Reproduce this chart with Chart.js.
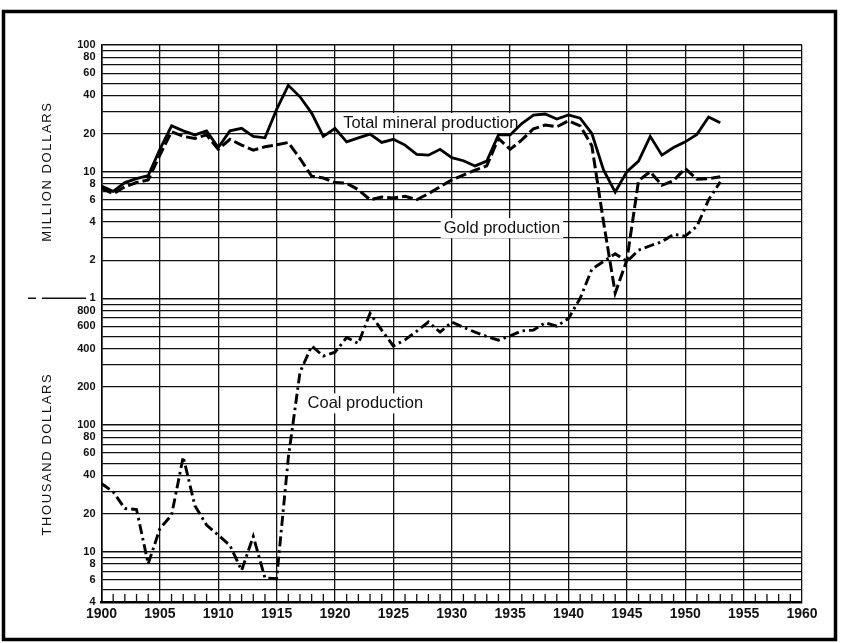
<!DOCTYPE html>
<html>
<head>
<meta charset="utf-8">
<script src="https://cdn.jsdelivr.net/npm/chart.js@4.4.1/dist/chart.umd.min.js"></script>
<style>
  html, body { margin: 0; padding: 0; background: #fff; }
  canvas { display: block; }
</style>
</head>
<body>
<canvas id="c" width="841" height="643"></canvas>
<script>
// Annual production values, 1900-1953
const years = [
  1900, 1901, 1902, 1903, 1904, 1905, 1906, 1907, 1908, 1909,
  1910, 1911, 1912, 1913, 1914, 1915, 1916, 1917, 1918, 1919,
  1920, 1921, 1922, 1923, 1924, 1925, 1926, 1927, 1928, 1929,
  1930, 1931, 1932, 1933, 1934, 1935, 1936, 1937, 1938, 1939,
  1940, 1941, 1942, 1943, 1944, 1945, 1946, 1947, 1948, 1949,
  1950, 1951, 1952, 1953
];

// million dollars
const totalMillions = [
  7.7, 7.0, 8.2, 8.8, 9.3, 15, 23, 21, 19.5, 21,
  15.5, 21, 22, 19, 18.5, 31, 48, 39, 29, 19,
  22, 17.2, 18.5, 19.8, 17, 18, 16.2, 13.7, 13.5, 15,
  12.9, 12.2, 11.1, 12.1, 19.5, 19.5, 24, 28, 28.5, 26,
  28, 26.4, 20, 10.3, 6.9, 10, 12.1, 19, 13.5, 15.5,
  17.2, 19.7, 27, 24.3
];

// million dollars
const goldMillions = [
  7.4, 6.7, 7.6, 8.2, 8.6, 13.5, 20.7, 19, 18.3, 19.5,
  15, 18, 16.2, 14.8, 15.7, 16.3, 17, 12.7, 9.2, 8.9,
  8.2, 8.1, 7.2, 6.0, 6.3, 6.2, 6.4, 6.0, 6.7, 7.6,
  8.6, 9.4, 10.3, 11.1, 18.3, 15, 17.8, 21.8, 23.3, 22.6,
  25.2, 23, 16, 4, 1.1, 2.0, 8.5, 10, 7.8, 8.5,
  10.6, 8.7, 8.8, 9.1
];

// thousand dollars
const coalThousands = [
  34.5, 29.6, 21.9, 21.5, 8.0, 15.2, 19.4, 56, 23, 16.2,
  13.5, 11.2, 7.1, 13.2, 6.2, 6.1, 55, 260, 420, 350,
  375, 490, 440, 760, 560, 420, 470, 550, 650, 540,
  650, 590, 540, 500, 467, 505, 553, 561, 641, 603,
  693, 1000, 1700, 1950, 2250, 1950, 2400, 2600, 2800, 3200,
  3100, 3700, 6000, 8300
];

// value axis is in thousands of dollars; labels switch to millions above 1000
const yLabelValues = [4, 6, 8, 10, 20, 40, 60, 80, 100, 200, 400, 600, 800,
                      1000, 2000, 4000, 6000, 8000, 10000, 20000, 40000, 60000, 80000, 100000];
const yLabelTexts  = ['4', '6', '8', '10', '20', '40', '60', '80', '100', '200', '400', '600', '800',
                      '1', '2', '4', '6', '8', '10', '20', '40', '60', '80', '100'];

const Y_MIN = 4, Y_MAX = 100000;
const X_MIN = 1900, X_MAX = 1960;

// ruled lines at every 1..9 step of each decade
const gridValues = [];
for (let p = 1; p <= 100000; p *= 10) {
  for (let m = 1; m <= 9; m++) {
    const v = m * p;
    if (v >= Y_MIN && v <= Y_MAX) gridValues.push(v);
  }
}

const toPoints = (vals, factor) => years.map((yr, i) => ({ x: yr, y: vals[i] * factor }));

const INK = '#111';
const FONT = '"Liberation Sans", Arial, sans-serif';

// in-plot captions, positioned in data units
const captions = [
  { text: 'Total mineral production', x: 1928.2, y: 24200 },
  { text: 'Gold production', x: 1934.3, y: 3580 },
  { text: 'Coal production', x: 1922.6, y: 148 }
];

const decorations = {
  id: 'decorations',
  beforeDraw(chart) {
    const ctx = chart.ctx;
    ctx.save();
    ctx.fillStyle = '#fff';
    ctx.fillRect(0, 0, chart.width, chart.height);
    ctx.strokeStyle = '#000';
    ctx.lineWidth = 3.5;
    ctx.strokeRect(3.5, 11.5, 832, 628);
    ctx.restore();
  },
  beforeDatasetsDraw(chart) {
    const ctx = chart.ctx;
    const xs = chart.scales.x, ys = chart.scales.y;
    const bottom = chart.chartArea.bottom;
    ctx.save();
    // yearly ticks rising from the time axis
    ctx.strokeStyle = INK;
    ctx.lineWidth = 1.3;
    for (let yr = X_MIN + 1; yr < X_MAX; yr++) {
      if (yr % 5 === 0) continue;
      const px = xs.getPixelForValue(yr);
      ctx.beginPath();
      ctx.moveTo(px, bottom);
      ctx.lineTo(px, bottom - 8);
      ctx.stroke();
    }
    // captions on white
    ctx.font = '16.5px ' + FONT;
    ctx.textAlign = 'center';
    ctx.textBaseline = 'middle';
    captions.forEach(c => {
      const px = xs.getPixelForValue(c.x);
      const py = ys.getPixelForValue(c.y);
      const w = ctx.measureText(c.text).width;
      ctx.fillStyle = '#fff';
      ctx.fillRect(px - w / 2 - 3, py - 10, w + 6, 20);
      ctx.fillStyle = INK;
      ctx.fillText(c.text, px, py);
    });
    ctx.restore();
  },
  afterDraw(chart) {
    const ctx = chart.ctx;
    const ys = chart.scales.y;
    const yOne = ys.getPixelForValue(1000);
    const yTop = ys.getPixelForValue(Y_MAX);
    const yBot = ys.getPixelForValue(Y_MIN);
    ctx.save();
    // divider between the million and thousand scales
    ctx.strokeStyle = INK;
    ctx.lineWidth = 1.6;
    ctx.beginPath();
    ctx.moveTo(28, yOne); ctx.lineTo(36, yOne);
    ctx.moveTo(42, yOne); ctx.lineTo(86, yOne);
    ctx.stroke();
    // axis titles
    ctx.fillStyle = INK;
    ctx.font = '13px ' + FONT;
    ctx.textAlign = 'center';
    ctx.textBaseline = 'middle';
    if ('letterSpacing' in ctx) ctx.letterSpacing = '1.6px';
    const drawV = (text, x, y) => {
      ctx.save();
      ctx.translate(x, y);
      ctx.rotate(-Math.PI / 2);
      ctx.fillText(text, 0, 0);
      ctx.restore();
    };
    drawV('MILLION DOLLARS', 47, (yTop + yOne) / 2);
    drawV('THOUSAND DOLLARS', 47, (yOne + yBot) / 2 + 4);
    ctx.restore();
  }
};

const isDecade = v => Math.abs(Math.log10(v) - Math.round(Math.log10(v))) < 1e-9;

new Chart(document.getElementById('c'), {
  type: 'line',
  data: {
    datasets: [
      {
        label: 'Coal production',
        data: toPoints(coalThousands, 1),
        borderColor: '#000',
        borderWidth: 2.9,
        borderDash: [10, 4, 2.5, 4],
        pointRadius: 0,
        tension: 0,
        fill: false
      },
      {
        label: 'Gold production',
        data: toPoints(goldMillions, 1000),
        borderColor: '#000',
        borderWidth: 3,
        borderDash: [11, 4],
        pointRadius: 0,
        tension: 0,
        fill: false
      },
      {
        label: 'Total mineral production',
        data: toPoints(totalMillions, 1000),
        borderColor: '#000',
        borderWidth: 2.8,
        pointRadius: 0,
        tension: 0,
        fill: false
      }
    ]
  },
  options: {
    responsive: false,
    animation: false,
    devicePixelRatio: 1,
    layout: { padding: { top: 45, right: 39, left: 0, bottom: 0 } },
    plugins: {
      legend: { display: false },
      tooltip: { enabled: false },
      title: { display: false }
    },
    scales: {
      x: {
        type: 'linear',
        min: X_MIN,
        max: X_MAX,
        afterFit: s => { s.height = 41; },
        afterBuildTicks: s => {
          const t = [];
          for (let v = X_MIN; v <= X_MAX; v += 5) t.push({ value: v });
          s.ticks = t;
        },
        ticks: {
          autoSkip: false,
          maxRotation: 0,
          padding: 4,
          color: INK,
          font: { family: FONT, size: 14, weight: 'bold' },
          callback: v => String(v)
        },
        grid: { color: INK, lineWidth: 1.3, drawTicks: false },
        border: { display: true, color: '#000', width: 2.6 }
      },
      y: {
        type: 'logarithmic',
        min: Y_MIN,
        max: Y_MAX,
        afterFit: s => { s.width = 101.5; },
        afterBuildTicks: s => { s.ticks = gridValues.map(v => ({ value: v })); },
        ticks: {
          autoSkip: false,
          padding: 6,
          color: INK,
          font: { family: FONT, size: 11, weight: 'bold' },
          callback: v => {
            const i = yLabelValues.findIndex(lv => Math.abs(lv - v) < 1e-6 * lv);
            return i >= 0 ? yLabelTexts[i] : '';
          }
        },
        grid: {
          color: INK,
          lineWidth: c => (c.tick && isDecade(c.tick.value)) ? 1.6 : 1.15,
          drawTicks: false
        },
        border: { display: true, color: '#000', width: 1.6 }
      }
    }
  },
  plugins: [decorations]
});
</script>
</body>
</html>
